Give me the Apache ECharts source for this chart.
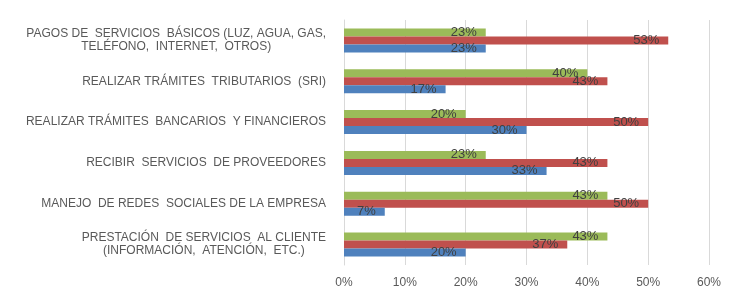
<!DOCTYPE html>
<html>
<head>
<meta charset="utf-8">
<script src="https://cdn.jsdelivr.net/npm/echarts@6/dist/echarts.min.js"></script>
<style>
  html, body { margin: 0; padding: 0; background: #fff; }
  #chart { width: 740px; height: 303px; }
</style>
</head>
<body>
<div id="chart"></div>
<script>
// categorías de arriba hacia abajo
const categories = [
    ['PAGOS DE  SERVICIOS  BÁSICOS (LUZ, AGUA, GAS,', 'TELÉFONO,  INTERNET,  OTROS)'],
    ['REALIZAR TRÁMITES  TRIBUTARIOS  (SRI)'],
    ['REALIZAR TRÁMITES  BANCARIOS  Y FINANCIEROS'],
    ['RECIBIR  SERVICIOS  DE PROVEEDORES'],
    ['MANEJO  DE REDES  SOCIALES DE LA EMPRESA'],
    ['PRESTACIÓN  DE SERVICIOS  AL CLIENTE', '(INFORMACIÓN,  ATENCIÓN,  ETC.)']
]
// porcentajes por serie (verde arriba, rojo en medio, azul abajo)
const greenValues = [23.3, 40, 20, 23.3, 43.3, 43.3]
const redValues = [53.3, 43.3, 50, 43.3, 50, 36.7]
const blueValues = [23.3, 16.7, 30, 33.3, 6.7, 20]
const xTicks = [0, 10, 20, 30, 40, 50, 60]

let myChart = echarts.init(document.getElementById('chart'))

const labelStyle = {
    show: true,
    position: 'insideRight',
    distance: 9,
    color: '#404040',
    fontSize: 13,
    fontFamily: 'Liberation Sans, Arial, sans-serif',
    formatter: p => Math.round(p.value) + '%'
}

function makeSeries(name, data, color) {
    return {
        name: name,
        type: 'bar',
        data: data,
        barWidth: 8,
        barGap: '0%',
        itemStyle: { color: color },
        label: labelStyle
    }
}

let option = {
    animation: false,
    grid: { left: 344, right: 31, top: 20, bottom: 38 },
    xAxis: {
        type: 'value',
        min: xTicks[0],
        max: xTicks[xTicks.length - 1],
        interval: 10,
        axisLine: { show: false },
        axisTick: { show: false },
        splitLine: { lineStyle: { color: '#d9d9d9', width: 1 } },
        axisLabel: {
            color: '#595959',
            fontSize: 12,
            fontFamily: 'Liberation Sans, Arial, sans-serif',
            margin: 12,
            formatter: v => v + '%'
        }
    },
    yAxis: {
        type: 'category',
        inverse: true,
        data: categories.map(c => c.join('\n')),
        axisLine: { show: true, lineStyle: { color: '#d9d9d9' } },
        axisTick: { show: false },
        axisLabel: {
            margin: 18,
            color: '#595959',
            fontSize: 12,
            lineHeight: 13,
            fontFamily: 'Liberation Sans, Arial, sans-serif',
            formatter: v => v.split('\n').map(s => '{c|' + s + '}').join('\n'),
            rich: {
                c: {
                    align: 'center',
                    color: '#595959',
                    fontSize: 12,
                    lineHeight: 13,
                    fontFamily: 'Liberation Sans, Arial, sans-serif'
                }
            }
        }
    },
    series: [
        makeSeries('verde', greenValues, '#9bbb59'),
        makeSeries('rojo', redValues, '#c0504d'),
        makeSeries('azul', blueValues, '#4f81bd')
    ]
}

myChart.setOption(option)
</script>
</body>
</html>
